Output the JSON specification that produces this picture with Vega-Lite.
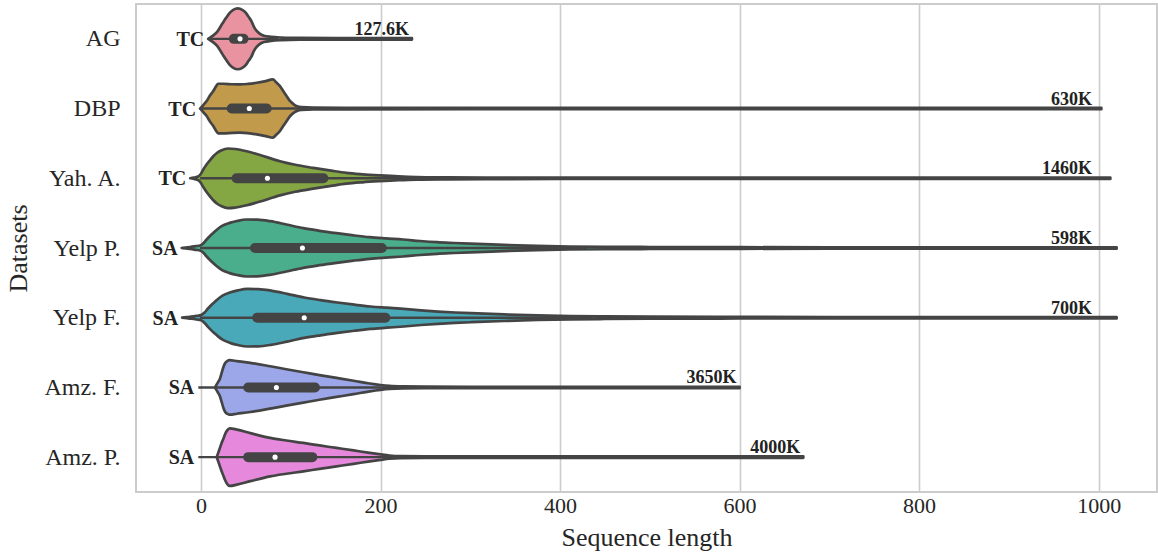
{
  "$schema": "https://vega.github.io/schema/vega-lite/v6.json",
  "width": 1021,
  "height": 488,
  "autosize": {"type": "none"},
  "padding": {"left": 136, "top": 4, "right": 1, "bottom": 61},
  "background": "white",
  "config": {
    "font": "Liberation Serif",
    "view": {"stroke": "#cccccc", "strokeWidth": 2},
    "axis": {"labelColor": "#262626", "titleColor": "#262626", "labelFont": "Liberation Serif", "titleFont": "Liberation Serif", "titleFontWeight": "normal"}
  },
  "datasets": {
    "violin": [
      {"d":"AG","i":0,"x":8,"w":0},{"d":"AG","i":0,"x":13,"w":3},{"d":"AG","i":0,"x":18,"w":7},{"d":"AG","i":0,"x":24,"w":15.5},{"d":"AG","i":0,"x":28,"w":21},{"d":"AG","i":0,"x":32,"w":26},{"d":"AG","i":0,"x":36,"w":29},{"d":"AG","i":0,"x":41,"w":30.4},{"d":"AG","i":0,"x":46,"w":29},{"d":"AG","i":0,"x":50,"w":26},{"d":"AG","i":0,"x":53,"w":22},{"d":"AG","i":0,"x":56,"w":18},{"d":"AG","i":0,"x":59,"w":12},{"d":"AG","i":0,"x":62,"w":8},{"d":"AG","i":0,"x":65,"w":5.5},{"d":"AG","i":0,"x":70,"w":3.2},{"d":"AG","i":0,"x":78,"w":2},{"d":"AG","i":0,"x":90,"w":1.3},{"d":"AG","i":0,"x":110,"w":0.9},{"d":"AG","i":0,"x":150,"w":0.75},{"d":"AG","i":0,"x":235,"w":0.7},
      {"d":"DBP","i":1,"x":-1,"w":0},{"d":"DBP","i":1,"x":3,"w":4},{"d":"DBP","i":1,"x":6.3,"w":7.5},{"d":"DBP","i":1,"x":10,"w":13},{"d":"DBP","i":1,"x":13.7,"w":17.5},{"d":"DBP","i":1,"x":17,"w":22.5},{"d":"DBP","i":1,"x":19,"w":24.8},{"d":"DBP","i":1,"x":25,"w":24.8},{"d":"DBP","i":1,"x":35,"w":24.3},{"d":"DBP","i":1,"x":43.5,"w":24.1},{"d":"DBP","i":1,"x":52,"w":24.6},{"d":"DBP","i":1,"x":62,"w":25.8},{"d":"DBP","i":1,"x":72,"w":27.5},{"d":"DBP","i":1,"x":80,"w":29.1},{"d":"DBP","i":1,"x":84,"w":26},{"d":"DBP","i":1,"x":88,"w":22.4},{"d":"DBP","i":1,"x":92,"w":17},{"d":"DBP","i":1,"x":95.5,"w":12.4},{"d":"DBP","i":1,"x":98,"w":9},{"d":"DBP","i":1,"x":101,"w":6},{"d":"DBP","i":1,"x":104,"w":3.8},{"d":"DBP","i":1,"x":107,"w":2.3},{"d":"DBP","i":1,"x":112,"w":1.4},{"d":"DBP","i":1,"x":125,"w":0.9},{"d":"DBP","i":1,"x":160,"w":0.75},{"d":"DBP","i":1,"x":300,"w":0.7},{"d":"DBP","i":1,"x":1003,"w":0.7},
      {"d":"Yah. A.","i":2,"x":-12,"w":0},{"d":"Yah. A.","i":2,"x":-8,"w":0.6},{"d":"Yah. A.","i":2,"x":-4,"w":1.5},{"d":"Yah. A.","i":2,"x":-1,"w":3.5},{"d":"Yah. A.","i":2,"x":2.6,"w":8.8},{"d":"Yah. A.","i":2,"x":6,"w":13.5},{"d":"Yah. A.","i":2,"x":10,"w":18},{"d":"Yah. A.","i":2,"x":13.7,"w":22},{"d":"Yah. A.","i":2,"x":18,"w":25.5},{"d":"Yah. A.","i":2,"x":23,"w":28},{"d":"Yah. A.","i":2,"x":30,"w":29.8},{"d":"Yah. A.","i":2,"x":38,"w":29.3},{"d":"Yah. A.","i":2,"x":51,"w":27},{"d":"Yah. A.","i":2,"x":65,"w":23.5},{"d":"Yah. A.","i":2,"x":88,"w":17.1},{"d":"Yah. A.","i":2,"x":105,"w":13.5},{"d":"Yah. A.","i":2,"x":125,"w":10.4},{"d":"Yah. A.","i":2,"x":145,"w":7.6},{"d":"Yah. A.","i":2,"x":162,"w":5.4},{"d":"Yah. A.","i":2,"x":180,"w":4},{"d":"Yah. A.","i":2,"x":199,"w":2.9},{"d":"Yah. A.","i":2,"x":220,"w":1.9},{"d":"Yah. A.","i":2,"x":240,"w":1.3},{"d":"Yah. A.","i":2,"x":275,"w":1},{"d":"Yah. A.","i":2,"x":320,"w":0.8},{"d":"Yah. A.","i":2,"x":400,"w":0.7},{"d":"Yah. A.","i":2,"x":1013,"w":0.7},
      {"d":"Yelp P.","i":3,"x":-21.5,"w":0},{"d":"Yelp P.","i":3,"x":-17,"w":0.5},{"d":"Yelp P.","i":3,"x":-12,"w":1},{"d":"Yelp P.","i":3,"x":-6,"w":1.8},{"d":"Yelp P.","i":3,"x":-1,"w":2.5},{"d":"Yelp P.","i":3,"x":3,"w":5},{"d":"Yelp P.","i":3,"x":6.3,"w":8.5},{"d":"Yelp P.","i":3,"x":10,"w":12},{"d":"Yelp P.","i":3,"x":13.7,"w":15.1},{"d":"Yelp P.","i":3,"x":18,"w":18.5},{"d":"Yelp P.","i":3,"x":23,"w":21.8},{"d":"Yelp P.","i":3,"x":32,"w":25.1},{"d":"Yelp P.","i":3,"x":40,"w":27},{"d":"Yelp P.","i":3,"x":51,"w":28.5},{"d":"Yelp P.","i":3,"x":63,"w":28.3},{"d":"Yelp P.","i":3,"x":77,"w":26.8},{"d":"Yelp P.","i":3,"x":95,"w":23.5},{"d":"Yelp P.","i":3,"x":114,"w":19.8},{"d":"Yelp P.","i":3,"x":132,"w":17.2},{"d":"Yelp P.","i":3,"x":151,"w":14.8},{"d":"Yelp P.","i":3,"x":170,"w":12.6},{"d":"Yelp P.","i":3,"x":188,"w":10.8},{"d":"Yelp P.","i":3,"x":206,"w":9.6},{"d":"Yelp P.","i":3,"x":225,"w":8.5},{"d":"Yelp P.","i":3,"x":244,"w":7},{"d":"Yelp P.","i":3,"x":263,"w":5.8},{"d":"Yelp P.","i":3,"x":282,"w":5},{"d":"Yelp P.","i":3,"x":300,"w":4.3},{"d":"Yelp P.","i":3,"x":337,"w":3.1},{"d":"Yelp P.","i":3,"x":374,"w":2.1},{"d":"Yelp P.","i":3,"x":411,"w":1.5},{"d":"Yelp P.","i":3,"x":450,"w":1.2},{"d":"Yelp P.","i":3,"x":500,"w":1},{"d":"Yelp P.","i":3,"x":600,"w":0.8},{"d":"Yelp P.","i":3,"x":700,"w":0.7},{"d":"Yelp P.","i":3,"x":1020,"w":0.7},
      {"d":"Yelp F.","i":4,"x":-21,"w":0},{"d":"Yelp F.","i":4,"x":-16,"w":0.5},{"d":"Yelp F.","i":4,"x":-11,"w":1},{"d":"Yelp F.","i":4,"x":-5,"w":1.8},{"d":"Yelp F.","i":4,"x":0,"w":2.6},{"d":"Yelp F.","i":4,"x":4,"w":5.2},{"d":"Yelp F.","i":4,"x":7.3,"w":8.7},{"d":"Yelp F.","i":4,"x":11,"w":12.2},{"d":"Yelp F.","i":4,"x":14.7,"w":15.3},{"d":"Yelp F.","i":4,"x":19,"w":18.7},{"d":"Yelp F.","i":4,"x":24,"w":22},{"d":"Yelp F.","i":4,"x":33,"w":25.4},{"d":"Yelp F.","i":4,"x":41,"w":27.3},{"d":"Yelp F.","i":4,"x":52,"w":28.8},{"d":"Yelp F.","i":4,"x":64,"w":28.6},{"d":"Yelp F.","i":4,"x":78,"w":27.1},{"d":"Yelp F.","i":4,"x":96,"w":23.9},{"d":"Yelp F.","i":4,"x":115,"w":20.2},{"d":"Yelp F.","i":4,"x":133,"w":17.6},{"d":"Yelp F.","i":4,"x":152,"w":15.2},{"d":"Yelp F.","i":4,"x":171,"w":13},{"d":"Yelp F.","i":4,"x":189,"w":11.2},{"d":"Yelp F.","i":4,"x":207,"w":10},{"d":"Yelp F.","i":4,"x":226,"w":8.8},{"d":"Yelp F.","i":4,"x":245,"w":7.3},{"d":"Yelp F.","i":4,"x":264,"w":6.1},{"d":"Yelp F.","i":4,"x":283,"w":5.2},{"d":"Yelp F.","i":4,"x":301,"w":4.5},{"d":"Yelp F.","i":4,"x":338,"w":3.3},{"d":"Yelp F.","i":4,"x":375,"w":2.3},{"d":"Yelp F.","i":4,"x":412,"w":1.6},{"d":"Yelp F.","i":4,"x":450,"w":1.3},{"d":"Yelp F.","i":4,"x":500,"w":1},{"d":"Yelp F.","i":4,"x":600,"w":0.8},{"d":"Yelp F.","i":4,"x":700,"w":0.7},{"d":"Yelp F.","i":4,"x":1020,"w":0.7},
      {"d":"Amz. F.","i":5,"x":15.6,"w":0},{"d":"Amz. F.","i":5,"x":17.5,"w":3},{"d":"Amz. F.","i":5,"x":19.5,"w":6},{"d":"Amz. F.","i":5,"x":21,"w":8.5},{"d":"Amz. F.","i":5,"x":23,"w":14.5},{"d":"Amz. F.","i":5,"x":25,"w":20.5},{"d":"Amz. F.","i":5,"x":27,"w":24.5},{"d":"Amz. F.","i":5,"x":29.5,"w":26.5},{"d":"Amz. F.","i":5,"x":32,"w":27.2},{"d":"Amz. F.","i":5,"x":40,"w":26.3},{"d":"Amz. F.","i":5,"x":55,"w":24.6},{"d":"Amz. F.","i":5,"x":77,"w":21.2},{"d":"Amz. F.","i":5,"x":95,"w":18.2},{"d":"Amz. F.","i":5,"x":114,"w":15.2},{"d":"Amz. F.","i":5,"x":132,"w":12.3},{"d":"Amz. F.","i":5,"x":151,"w":9.5},{"d":"Amz. F.","i":5,"x":170,"w":6.7},{"d":"Amz. F.","i":5,"x":188,"w":3.9},{"d":"Amz. F.","i":5,"x":200,"w":2.4},{"d":"Amz. F.","i":5,"x":210,"w":1.5},{"d":"Amz. F.","i":5,"x":225,"w":1},{"d":"Amz. F.","i":5,"x":250,"w":0.8},{"d":"Amz. F.","i":5,"x":300,"w":0.7},{"d":"Amz. F.","i":5,"x":600,"w":0.7},
      {"d":"Amz. P.","i":6,"x":17.5,"w":0},{"d":"Amz. P.","i":6,"x":19.3,"w":4.5},{"d":"Amz. P.","i":6,"x":21,"w":9},{"d":"Amz. P.","i":6,"x":23,"w":14.2},{"d":"Amz. P.","i":6,"x":25,"w":18.5},{"d":"Amz. P.","i":6,"x":26.7,"w":22.6},{"d":"Amz. P.","i":6,"x":29,"w":26.5},{"d":"Amz. P.","i":6,"x":32,"w":28.8},{"d":"Amz. P.","i":6,"x":40,"w":27.5},{"d":"Amz. P.","i":6,"x":55,"w":24},{"d":"Amz. P.","i":6,"x":77,"w":19.2},{"d":"Amz. P.","i":6,"x":95,"w":16.6},{"d":"Amz. P.","i":6,"x":114,"w":14.2},{"d":"Amz. P.","i":6,"x":132,"w":11.7},{"d":"Amz. P.","i":6,"x":151,"w":9.2},{"d":"Amz. P.","i":6,"x":170,"w":6.7},{"d":"Amz. P.","i":6,"x":188,"w":4.2},{"d":"Amz. P.","i":6,"x":200,"w":2.7},{"d":"Amz. P.","i":6,"x":210,"w":1.6},{"d":"Amz. P.","i":6,"x":222,"w":1},{"d":"Amz. P.","i":6,"x":250,"w":0.8},{"d":"Amz. P.","i":6,"x":671,"w":0.7}
    ],
    "stats": [
      {"d":"AG","i":0,"task":"TC","lo":8,"wlo":8,"q1":36.6,"med":43.5,"q3":47.4,"whi":86,"max":235,"n":"127.6K"},
      {"d":"DBP","i":1,"task":"TC","lo":-1,"wlo":-1,"q1":34.2,"med":53.8,"q3":73.2,"whi":150,"max":1003,"n":"630K"},
      {"d":"Yah. A.","i":2,"task":"TC","lo":-12,"wlo":-1,"q1":39.6,"med":74,"q3":136.4,"whi":300,"max":1013,"n":"1460K"},
      {"d":"Yelp P.","i":3,"task":"SA","lo":-21.5,"wlo":-1,"q1":60.2,"med":113,"q3":201.4,"whi":430,"max":1020,"n":"598K"},
      {"d":"Yelp F.","i":4,"task":"SA","lo":-21,"wlo":-1,"q1":62.6,"med":115,"q3":205.4,"whi":435,"max":1020,"n":"700K"},
      {"d":"Amz. F.","i":5,"task":"SA","lo":-3,"wlo":-3,"q1":52.6,"med":84,"q3":127,"whi":250,"max":600,"n":"3650K"},
      {"d":"Amz. P.","i":6,"task":"SA","lo":-3,"wlo":-3,"q1":52.6,"med":82.5,"q3":124,"whi":240,"max":671,"n":"4000K"}
    ]
  },
  "layer": [
    {
      "data": {"name": "violin"},
      "transform": [
        {"calculate": "datum.i - datum.w / 69.7", "as": "y0"},
        {"calculate": "datum.i + datum.w / 69.7", "as": "y1"}
      ],
      "mark": {"type": "area", "orient": "vertical", "interpolate": "monotone", "stroke": "#444444", "strokeWidth": 2.7, "strokeJoin": "round", "strokeCap": "round", "opacity": 1},
      "encoding": {
        "x": {"field": "x", "type": "quantitative", "scale": {"domain": [-72.4, 1065], "nice": false, "zero": false},
          "axis": {"values": [0, 200, 400, 600, 800, 1000], "format": "d", "grid": true, "gridColor": "#cccccc", "gridWidth": 1.6, "ticks": false, "domain": false, "labelFontSize": 22, "labelPadding": 3, "title": "Sequence length", "titleFontSize": 26, "titlePadding": 8}},
        "y": {"field": "y0", "type": "quantitative", "scale": {"domain": [-0.5, 6.5], "reverse": true, "nice": false, "zero": false},
          "axis": {"values": [0, 1, 2, 3, 4, 5, 6], "labelExpr": "['AG','DBP','Yah. A.','Yelp P.','Yelp F.','Amz. F.','Amz. P.'][datum.value]", "grid": false, "ticks": false, "domain": false, "labelFontSize": 24, "labelPadding": 16, "title": "Datasets", "titleFontSize": 26, "titlePadding": 12}},
        "y2": {"field": "y1"},
        "color": {"field": "d", "type": "nominal", "legend": null,
          "scale": {"domain": ["AG","DBP","Yah. A.","Yelp P.","Yelp F.","Amz. F.","Amz. P."], "range": ["#e8939f","#c19a4c","#85a743","#4aad8b","#4aa9b9","#9ca7ea","#e689dc"]}}
      }
    },
    {
      "data": {"name": "stats"},
      "mark": {"type": "rule", "color": "#444444", "strokeWidth": 2.4},
      "encoding": {"x": {"field": "wlo", "type": "quantitative"}, "x2": {"field": "whi"}, "y": {"field": "i", "type": "quantitative"}}
    },
    {
      "data": {"name": "stats"},
      "mark": {"type": "rule", "color": "#444444", "strokeWidth": 10, "strokeCap": "round"},
      "encoding": {"x": {"field": "q1", "type": "quantitative"}, "x2": {"field": "q3"}, "y": {"field": "i", "type": "quantitative"}}
    },
    {
      "data": {"name": "stats"},
      "mark": {"type": "point", "filled": true, "color": "white", "size": 26, "opacity": 1},
      "encoding": {"x": {"field": "med", "type": "quantitative"}, "y": {"field": "i", "type": "quantitative"}}
    },
    {
      "data": {"name": "stats"},
      "mark": {"type": "text", "align": "right", "baseline": "middle", "dx": -4, "dy": 1, "fontSize": 20, "fontWeight": "bold", "color": "#222222", "font": "Liberation Serif"},
      "encoding": {"x": {"field": "lo", "type": "quantitative"}, "y": {"field": "i", "type": "quantitative"}, "text": {"field": "task"}}
    },
    {
      "data": {"name": "stats"},
      "transform": [{"calculate": "min(datum.max, 996)", "as": "lx"}],
      "mark": {"type": "text", "align": "right", "baseline": "alphabetic", "dx": -3, "dy": -4, "fontSize": 18, "fontWeight": "bold", "color": "#222222", "font": "Liberation Serif"},
      "encoding": {"x": {"field": "lx", "type": "quantitative"}, "y": {"field": "i", "type": "quantitative"}, "text": {"field": "n"}}
    }
  ]
}
